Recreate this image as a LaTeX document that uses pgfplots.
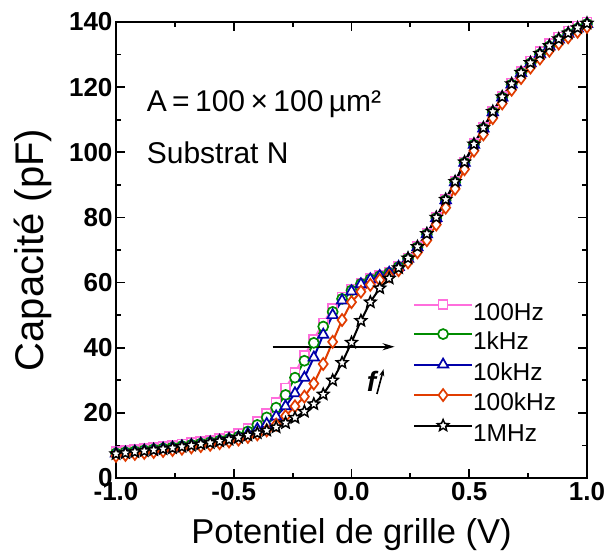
\documentclass[border=0pt]{standalone}
\usepackage{pgfplots}
\pgfplotsset{compat=1.18}
\usepackage{pgfplotstable}
\usepackage{fontspec}
\setmainfont{Liberation Sans}
\usetikzlibrary{arrows.meta}
\definecolor{cpink}{RGB}{255,110,220}
\definecolor{cgreen}{RGB}{0,140,0}
\definecolor{cblue}{RGB}{0,0,170}
\definecolor{cred}{RGB}{225,60,0}
\pgfdeclareplotmark{ostar}{%
  \pgfpathmoveto{\pgfqpointpolar{90}{\pgfplotmarksize}}%
  \pgfpathlineto{\pgfqpointpolar{126}{0.45\pgfplotmarksize}}%
  \pgfpathlineto{\pgfqpointpolar{162}{\pgfplotmarksize}}%
  \pgfpathlineto{\pgfqpointpolar{198}{0.45\pgfplotmarksize}}%
  \pgfpathlineto{\pgfqpointpolar{234}{\pgfplotmarksize}}%
  \pgfpathlineto{\pgfqpointpolar{270}{0.45\pgfplotmarksize}}%
  \pgfpathlineto{\pgfqpointpolar{306}{\pgfplotmarksize}}%
  \pgfpathlineto{\pgfqpointpolar{342}{0.45\pgfplotmarksize}}%
  \pgfpathlineto{\pgfqpointpolar{18}{\pgfplotmarksize}}%
  \pgfpathlineto{\pgfqpointpolar{54}{0.45\pgfplotmarksize}}%
  \pgfpathclose
  \pgfusepathqfillstroke
}
\pgfplotstableread{
V      P     G     B     R     K
-1.00  8.2   7.6   7.5   6.8   7.4
-0.96  8.5   7.9   7.8   7.1   7.7
-0.92  8.8   8.2   8.1   7.4   8.0
-0.88  9.1   8.5   8.4   7.7   8.3
-0.84  9.4   8.8   8.7   8.0   8.6
-0.80  9.7   9.1   9.0   8.3   8.9
-0.76  10.0  9.4   9.3   8.6   9.2
-0.72  10.4  9.8   9.7   9.0   9.6
-0.68  10.8  10.2  10.1  9.4   10.0
-0.64  11.2  10.6  10.5  9.8   10.4
-0.60  11.6  11.0  10.9  10.2  10.8
-0.56  12.1  11.5  11.4  10.7  11.3
-0.52  12.7  12.0  11.9  11.2  11.8
-0.48  13.6  12.7  12.5  11.8  12.4
-0.44  15.3  14.3  13.6  12.6  13.1
-0.40  17.3  16.3  15.0  13.4  13.8
-0.36  19.9  18.6  16.6  14.6  14.6
-0.32  23.2  21.6  18.9  16.4  15.6
-0.28  27.6  25.5  22.0  19.0  16.9
-0.24  32.3  30.8  26.0  22.0  18.5
-0.20  37.6  36.0  30.8  25.0  20.4
-0.16  42.6  41.5  37.0  29.0  22.7
-0.12  47.6  46.5  44.0  35.0  25.7
-0.08  52.0  51.0  50.0  41.8  30.0
-0.04  55.6  55.0  54.5  48.5  35.4
0.00   58.0  57.6  57.3  54.0  41.6
0.04   59.8  59.6  59.5  57.2  48.3
0.08   61.2  61.0  61.0  59.3  54.0
0.12   62.2  62.0  62.0  60.8  58.3
0.16   63.2  63.0  63.0  62.0  61.3
0.20   65.0  64.8  64.8  63.8  64.5
0.24   67.5  67.3  67.3  66.2  67.5
0.28   71.0  70.8  70.8  69.3  71.0
0.32   75.0  74.8  74.8  73.0  75.0
0.36   80.0  79.8  79.8  77.8  80.0
0.40   85.5  85.3  85.3  83.0  85.5
0.44   91.0  90.8  90.8  88.8  91.0
0.48   97.0  96.8  96.8  94.8  97.0
0.52   102.6 102.3 102.3 100.5 102.5
0.56   107.6 107.3 107.3 105.5 107.5
0.60   112.6 112.3 112.3 110.5 112.5
0.64   117.2 116.8 116.8 115.0 117.0
0.68   121.3 120.8 120.8 119.2 121.0
0.72   124.8 124.3 124.3 122.8 124.5
0.76   128.0 127.3 127.3 126.0 127.5
0.80   130.9 130.1 130.1 128.8 130.3
0.84   133.3 132.5 132.5 131.2 132.7
0.88   135.4 134.6 134.6 133.4 134.8
0.92   137.2 136.4 136.4 135.3 136.6
0.96   138.8 138.0 138.0 137.0 138.2
1.00   140.0 139.4 139.4 138.5 139.6
}\data
\begin{document}
\begin{tikzpicture}
\useasboundingbox (-116pt,-74pt) rectangle (489pt,478pt);
\begin{axis}[
  at={(0pt,0pt)}, anchor=south west,
  width=471pt, height=456pt, scale only axis,
  xmin=-1, xmax=1, ymin=0, ymax=140,
  xtick={-1,-0.5,0,0.5,1},
  xticklabels={-1.0,-0.5,0.0,0.5,1.0},
  ytick={0,20,40,60,80,100,120,140},
  yticklabels={0,20,40,60,80,100,120,140},
  minor x tick num=1, minor y tick num=1,
  tick align=inside,
  major tick length=9pt, minor tick length=5pt,
  every tick/.style={black, line width=1.8pt},
  axis line style={line width=2.2pt},
  xticklabel style={font=\fontsize{26}{30}\selectfont\bfseries, yshift=-1pt},
  yticklabel style={font=\fontsize{26}{30}\selectfont\bfseries, xshift=0pt},
  xlabel={Potentiel de grille (V)},
  ylabel={Capacité (pF)},
  every axis x label/.style={at={(axis description cs:0.5,-0.125)}, anchor=center, font=\fontsize{34.5}{40}\selectfont},
  every axis y label/.style={at={(axis description cs:-0.176,0.5)}, anchor=center, rotate=90, font=\fontsize{40}{44}\selectfont},
  legend style={at={(axis description cs:0.624,0.395)}, anchor=north west, draw=none, fill=none,
    font=\fontsize{24.5}{28}\selectfont, row sep=4pt,
    nodes={inner sep=0pt, text height=18pt, text depth=5pt},
    /tikz/every even column/.append style={column sep=8pt}},
  legend cell align=left,
  legend image code/.code={\draw[mark repeat=2,mark phase=2,#1] plot coordinates {(0pt,9pt) (29pt,9pt) (58pt,9pt)};},
  clip=false,
]
\addplot[cpink, line width=2pt, mark=square*, mark size=4.5pt, mark options={fill=white, line width=1.7pt}] table[x=V,y=P] {\data};
\addlegendentry{100Hz}
\addplot[cgreen, line width=2pt, mark=*, mark size=5pt, mark options={fill=white, line width=1.7pt}] table[x=V,y=G] {\data};
\addlegendentry{1kHz}
\addplot[cblue, line width=2pt, mark=triangle*, mark size=6pt, mark options={fill=white, line width=1.7pt}] table[x=V,y=B] {\data};
\addlegendentry{10kHz}
\addplot[cred, line width=2pt, mark=diamond*, mark size=6pt, mark options={fill=white, line width=1.7pt}] table[x=V,y=R] {\data};
\addlegendentry{100kHz}
\addplot[black, line width=2pt, mark=ostar, mark size=6pt, mark options={fill=white, line width=1.5pt}] table[x=V,y=K] {\data};
\addlegendentry{1MHz}
\draw[-{Stealth[length=12pt,width=7pt]}, line width=2pt] (axis cs:-0.335,40.3) -- (axis cs:0.183,40.3);
\node[font=\fontsize{28}{32}\selectfont\bfseries\itshape] at (axis cs:0.085,29.8) {f};
\draw[-{Stealth[length=7pt,width=5pt]}, line width=1.6pt] (axis cs:0.108,25.8) -- (axis cs:0.136,33.4);
\node[anchor=west, font=\fontsize{30}{34}\selectfont, inner sep=0pt] at (axis cs:-0.870,114.8) {A\hspace{0.18em}=\hspace{0.18em}100\hspace{0.18em}×\hspace{0.18em}100\hspace{0.18em}µm²};
\node[anchor=west, font=\fontsize{30}{34}\selectfont, inner sep=0pt] at (axis cs:-0.870,100) {Substrat N};
\end{axis}
\end{tikzpicture}
\end{document}
